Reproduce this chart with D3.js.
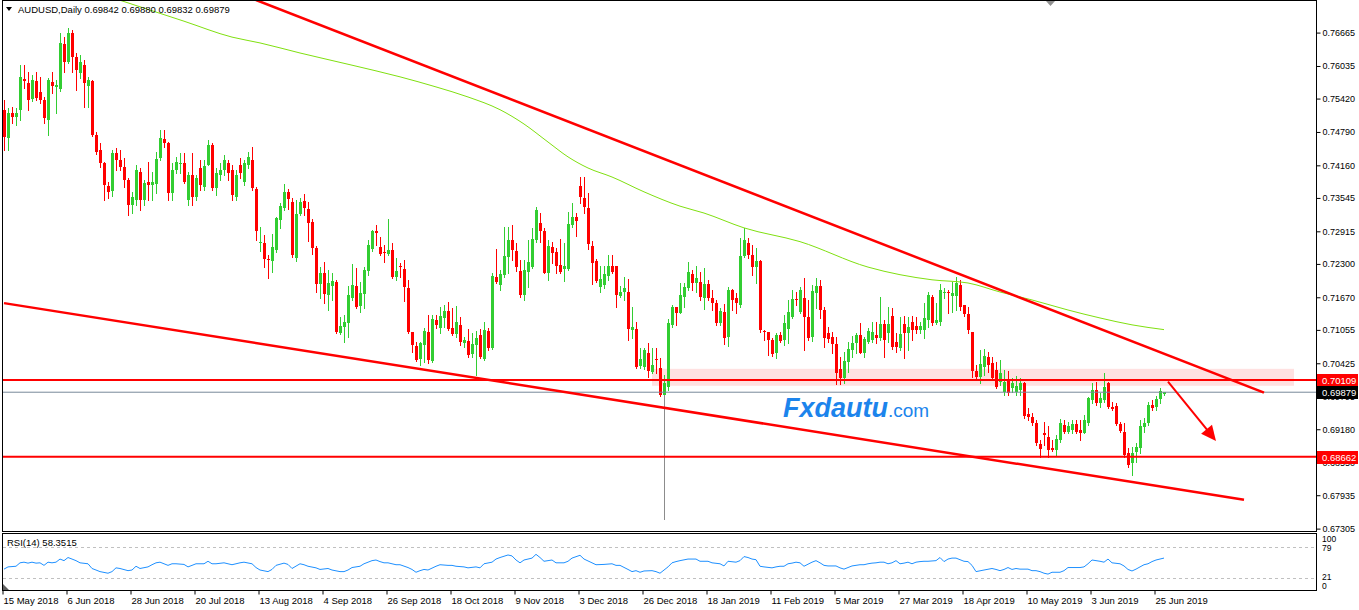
<!DOCTYPE html>
<html>
<head>
<meta charset="utf-8">
<script src="https://cdn.jsdelivr.net/npm/d3@7"></script>
<style>
  html, body { margin: 0; padding: 0; background: #fff; }
  svg { display: block; font-family: "Liberation Sans", Arial, sans-serif; }
</style>
</head>
<body>
<svg id="chart" width="1359" height="610"></svg>
<script>
// AUDUSD daily candles, prices in pips (price * 10000), bar 0 = 15 May 2018
let opens = [
  7521,7468,7515,7507,7521,7579,7571,7541,7575,7554, 7539,7502,7574,7564,7560,7645,7611,7666,7620,7590,
  7605,7566,7575,7473,7445,7421,7377,7368,7439,7426, 7413,7389,7341,7351,7404,7351,7385,7379,7380,7430,
  7466,7458,7364,7407,7419,7421,7351,7398,7356,7411, 7375,7417,7455,7373,7398,7407,7421,7407,7356,7417,
  7385,7417,7426,7372,7270,7270,7240,7236,7256,7313, 7336,7366,7347,7241,7324,7349,7334,7309,7260,7192,
  7213,7172,7189,7196,7100,7111,7119,7166,7189,7151, 7173,7217,7258,7292,7262,7253,7249,7256,7206,7226,
  7221,7185,7102,7075,7051,7077,7102,7047,7124,7109, 7128,7142,7109,7098,7115,7081,7085,7060,7077,7096,
  7051,7104,7072,7206,7190,7209,7243,7275,7255,7217, 7172,7215,7224,7275,7307,7292,7213,7262,7253,7228,
  7221,7221,7304,7319,7377,7355,7336,7264,7236,7187, 7190,7207,7226,7226,7170,7177,7177,7106,7108,7038,
  7036,7062,7026,7051,7034,6983,6998,7115,7149,7138, 7168,7185,7211,7194,7196,7166,7192,7166,7157,7119,
  7140,7092,7181,7166,7153,7245,7270,7247,7224,7236, 7104,7102,7087,7062,7096,7087,7108,7130,7164,7140,
  7166,7130,7092,7175,7189,7143,7100,7092,7079,7032, 7015,7045,7068,7081,7096,7062,7083,7087,7096,7091,
  7117,7100,7132,7083,7072,7117,7100,7120,7113,7106, 7106,7124,7168,7119,7121,7175,7177,7170,7170,7190,
  7153,7136,7102,7028,7017,7036,7055,7043,7030,7008, 6989,7011,6996,6989,6992,7006,6947,6942,6930,6891,
  6911,6904,6883,6879,6898,6926,6913,6917,6928,6917, 6911,6930,6974,6992,6968,6974,7006,6960,6962,6928,
  6913,6874,6855,6876,6883,6923,6930,6964,6960,6975, 6984.2
];
let highs = [
  7539,7524,7526,7524,7605,7605,7592,7587,7592,7583, 7545,7580,7592,7577,7666,7658,7675,7671,7628,7624,
  7615,7583,7577,7479,7458,7423,7385,7445,7449,7445, 7430,7392,7366,7417,7411,7389,7423,7404,7441,7483,
  7483,7460,7421,7432,7439,7439,7404,7439,7398,7426, 7426,7464,7458,7411,7421,7436,7426,7417,7407,7430,
  7426,7441,7451,7375,7300,7285,7247,7287,7319,7345, 7381,7372,7355,7351,7355,7362,7347,7315,7264,7224,
  7234,7219,7213,7200,7130,7134,7189,7230,7223,7196, 7224,7275,7294,7304,7281,7266,7315,7270,7241,7232,
  7238,7200,7102,7083,7083,7109,7134,7134,7134,7149, 7153,7158,7147,7151,7130,7092,7108,7100,7104,7108,
  7121,7109,7213,7258,7219,7300,7300,7304,7270,7238, 7238,7275,7298,7338,7326,7298,7275,7272,7260,7277,
  7270,7328,7345,7326,7394,7394,7364,7273,7240,7226, 7226,7247,7247,7226,7189,7206,7202,7149,7121,7072,
  7072,7081,7072,7072,7053,7021,7126,7153,7149,7194, 7194,7234,7219,7226,7215,7223,7200,7181,7162,7147,
  7155,7187,7183,7175,7279,7298,7279,7266,7260,7238, 7106,7102,7091,7100,7102,7134,7162,7181,7177,7187,
  7204,7162,7190,7204,7200,7149,7111,7102,7092,7055, 7064,7083,7094,7100,7119,7092,7109,7121,7121,7168,
  7124,7149,7147,7100,7130,7132,7130,7132,7130,7121, 7157,7177,7172,7157,7192,7185,7181,7196,7206,7200,
  7153,7149,7102,7040,7068,7070,7064,7055,7045,7049, 7030,7028,7015,7019,7015,7008,6958,6949,6936,6898,
  6932,6925,6898,6908,6938,6936,6932,6936,6936,6936, 6945,6979,7006,7008,6987,7025,7008,6970,6968,6932,
  6930,6883,6885,6892,6936,6940,6970,6974,6981,6996, 6988.0
];
let lows = [
  7445,7445,7496,7492,7502,7562,7521,7537,7539,7534, 7496,7473,7553,7515,7556,7592,7609,7592,7558,7581,
  7526,7526,7472,7438,7413,7351,7355,7358,7407,7407, 7375,7323,7326,7341,7332,7341,7351,7351,7364,7426,
  7451,7351,7351,7402,7402,7383,7341,7341,7351,7370, 7370,7417,7370,7360,7389,7398,7389,7351,7351,7392,
  7379,7411,7370,7275,7255,7224,7204,7215,7253,7298, 7332,7334,7243,7236,7323,7323,7273,7249,7177,7166,
  7157,7143,7162,7100,7098,7083,7092,7162,7147,7140, 7147,7209,7255,7266,7247,7234,7247,7204,7200,7206,
  7160,7100,7064,7047,7040,7045,7043,7045,7109,7100, 7111,7106,7096,7092,7077,7074,7055,7055,7021,7053,
  7049,7068,7070,7194,7181,7206,7213,7238,7217,7168, 7162,7187,7223,7272,7272,7213,7200,7232,7213,7213,
  7198,7219,7300,7283,7345,7326,7258,7192,7196,7177, 7185,7200,7213,7149,7168,7162,7087,7091,7034,7034,
  7032,7017,7025,7025,6981,6749,6992,7111,7115,7138, 7149,7181,7181,7177,7162,7145,7162,7143,7115,7115,
  7079,7075,7143,7138,7149,7243,7241,7209,7194,7102, 7087,7058,7057,7053,7083,7077,7081,7128,7153,7138,
  7068,7087,7085,7147,7128,7074,7083,7062,7004,7004, 7006,7026,7055,7062,7062,7055,7081,7083,7081,7087,
  7055,7083,7070,7064,7068,7053,7068,7087,7100,7100, 7091,7111,7115,7117,7115,7166,7138,7140,7143,7143,
  7132,7100,7017,7015,7006,7021,7026,7011,6996,7002, 6983,6983,6989,6983,6983,6940,6936,6926,6889,6866,
  6889,6866,6877,6868,6894,6911,6911,6911,6911,6898, 6911,6926,6968,6964,6960,6970,6958,6955,6926,6913,
  6866,6847,6832,6857,6874,6913,6926,6955,6955,6968, 6983.2
];
let closes = [
  7470,7515,7507,7515,7583,7575,7539,7577,7543,7539, 7505,7577,7566,7568,7647,7611,7666,7620,7596,7611,
  7571,7577,7473,7441,7421,7379,7366,7439,7426,7413, 7389,7341,7356,7407,7351,7383,7379,7385,7428,7468,
  7458,7364,7407,7423,7421,7385,7398,7356,7392,7379, 7415,7455,7373,7402,7407,7426,7402,7360,7398,7402,
  7421,7432,7373,7292,7272,7240,7238,7262,7317,7340, 7366,7353,7247,7324,7347,7336,7307,7260,7192,7213,
  7173,7194,7198,7102,7113,7121,7172,7190,7149,7175, 7219,7266,7292,7289,7249,7251,7256,7206,7217,7224,
  7187,7102,7077,7049,7081,7104,7049,7126,7115,7132, 7142,7108,7098,7121,7083,7087,7058,7079,7091,7055,
  7106,7072,7207,7196,7211,7245,7275,7256,7224,7172, 7219,7234,7277,7332,7292,7213,7264,7251,7226,7215,
  7226,7306,7319,7311,7356,7338,7268,7232,7198,7202, 7211,7226,7215,7172,7177,7185,7108,7111,7036,7051,
  7068,7028,7040,7049,6983,7006,7119,7149,7138,7172, 7187,7215,7194,7204,7168,7192,7166,7157,7119,7142,
  7091,7181,7162,7157,7245,7275,7247,7224,7236,7106, 7102,7087,7060,7096,7085,7119,7140,7164,7162,7181,
  7130,7091,7179,7189,7143,7091,7089,7079,7025,7015, 7047,7070,7081,7096,7062,7089,7104,7102,7091,7117,
  7087,7117,7074,7074,7098,7100,7111,7106,7106,7113, 7128,7172,7119,7124,7181,7177,7175,7176,7194,7149,
  7136,7106,7028,7017,7042,7057,7040,7015,6998,7025, 7008,6987,7006,7000,7006,6943,6942,6930,6892,6880,
  6908,6879,6879,6900,6930,6913,6925,6928,6913,6911, 6936,6977,6992,6968,6977,6998,6960,6957,6928,6915,
  6870,6851,6874,6885,6925,6930,6964,6958,6975,6990, 6987.9
];
// bars whose long lower shadow is drawn grey in the reference (2 Jan 2019 flash crash)
let greyShadowBars = [165];

// 200-day moving average as [bar, price]
let maPoints = [
  [28,0.7730],[45,0.7688],[57,0.7658],[64,0.7647],[74,0.7628],[87,0.7605],[99,0.7583],[108,0.7564],
  [116,0.7545],[124,0.7521],[130,0.7494],[136,0.7460],[141,0.7432],[146,0.7411],[152,0.7394],[160,0.7366],
  [169,0.7339],[175,0.7326],[185,0.7298],[199,0.7272],[216,0.7224],[232,0.7200],[241,0.7194],[249,0.7177],
  [257,0.7162],[266,0.7143],[274,0.7128],[282,0.7115],[290,0.7106]
];

// RSI(14) as [bar, value]
let rsiPoints = [
  [0,37.5],[1,41.7],[3,42.9],[4,49.4],[5,50.6],[6,48.8],[7,50.6],[8,48.8],[9,49.4],[10,44.6],[11,50.6],[12,49.4],
  [13,50.6],[14,56.5],[15,53.5],[16,59.4],[17,56.5],[18,53.5],[19,49.4],[21,47.6],[22,38.7],[23,35.8],[24,32.8],
  [26,29.8],[27,32.8],[28,39.9],[29,38.7],[31,34.6],[32,35.8],[33,42.9],[34,38.7],[36,41.7],[37,45.8],[38,49.4],
  [39,50.6],[41,44.6],[42,47.6],[43,47.6],[45,46.4],[46,41.7],[47,44.6],[48,47.6],[50,47.6],[51,52.3],[52,47.6],
  [53,47.6],[55,49.4],[56,47.6],[57,45.8],[59,49.4],[60,50.6],[62,47.6],[63,40.5],[64,35.8],[66,32.8],[67,36.9],
  [68,44.6],[70,48.8],[71,46.4],[72,38.7],[74,47.6],[75,45.8],[76,42.9],[78,39.9],[79,36.9],[81,38.7],[82,35.8],
  [84,32.8],[85,32.8],[86,35.8],[87,40.5],[89,42.9],[90,47.6],[92,53.5],[93,54.7],[94,51.7],[95,49.4],[96,49.4],
  [98,45.8],[99,45.8],[101,40.5],[102,36.9],[103,31.6],[104,34.6],[105,36.9],[106,35.8],[108,42.9],[109,45.8],
  [111,44.6],[112,44.6],[113,42.9],[115,41.7],[116,39.9],[118,41.7],[119,39.9],[120,47.6],[122,50.6],[123,56.5],
  [124,59.4],[126,64.2],[127,62.4],[128,54.7],[129,49.4],[130,54.7],[132,58.3],[133,65.4],[134,59.4],[135,52.3],
  [137,54.7],[138,49.4],[140,49.4],[141,52.3],[142,58.3],[144,63.6],[145,56.5],[147,49.4],[148,45.8],[150,46.4],
  [152,47.6],[153,44.6],[154,44.6],[156,36.9],[157,32.8],[158,34.6],[159,31.6],[160,34.0],[162,34.6],[163,32.8],
  [164,29.8],[166,41.7],[167,49.4],[168,51.7],[169,53.5],[171,56.5],[173,56.5],[174,52.3],[176,52.3],[177,49.4],
  [179,47.6],[180,43.5],[181,52.3],[183,50.6],[184,53.5],[185,61.2],[186,59.4],[187,56.5],[188,55.3],[189,42.9],
  [190,41.7],[192,39.9],[193,41.7],[194,42.9],[195,42.9],[196,47.6],[197,48.8],[198,50.6],[199,49.4],[200,42.9],
  [202,50.6],[203,53.5],[204,49.4],[205,44.6],[206,43.5],[208,43.5],[209,39.9],[210,37.5],[211,40.5],[212,43.5],
  [214,45.8],[215,45.8],[216,47.6],[217,48.8],[218,49.4],[219,50.6],[220,50.6],[221,47.6],[222,49.4],[223,53.5],
  [224,47.6],[225,48.8],[226,50.6],[227,47.6],[228,50.6],[229,51.7],[230,52.3],[231,52.3],[233,53.5],[234,59.4],
  [235,51.7],[236,56.5],[237,58.3],[238,58.3],[239,55.3],[240,52.3],[241,51.7],[242,44.6],[243,32.8],[245,35.8],
  [247,38.7],[248,36.9],[249,34.6],[250,36.9],[251,40.5],[252,36.9],[253,38.7],[254,37.5],[256,37.5],[257,34.6],
  [258,34.6],[259,32.8],[260,29.8],[261,28.1],[262,31.6],[264,31.6],[265,34.6],[266,40.5],[268,40.5],[269,40.5],
  [270,41.7],[271,47.6],[272,54.7],[274,52.3],[275,50.6],[276,56.5],[277,49.4],[279,47.6],[280,43.5],[281,36.9],
  [282,34.0],[283,37.5],[284,41.7],[285,45.8],[286,47.6],[287,51.7],[288,54.7],[290,58.35]
];

let dateTicks = [0,16,32,48,64,80,96,112,128,144,160,176,192,208,224,240,256,272,288];
let dateLabels = ["15 May 2018","6 Jun 2018","28 Jun 2018","20 Jul 2018","13 Aug 2018","4 Sep 2018",
  "26 Sep 2018","18 Oct 2018","9 Nov 2018","3 Dec 2018","26 Dec 2018","18 Jan 2019","11 Feb 2019",
  "5 Mar 2019","27 Mar 2019","18 Apr 2019","10 May 2019","3 Jun 2019","25 Jun 2019"];
let priceTicks = [0.76665,0.76035,0.75420,0.74790,0.74160,0.73545,0.72915,0.72300,0.71670,0.71055,
  0.70425,0.69795,0.69180,0.68550,0.67935,0.67305];
let rsiLevels = [79, 21];

// drawn objects: [bar, price]
let upperTrend = [[63, 0.7728], [315, 0.6987]];
let lowerTrend = [[0, 0.7156], [310, 0.6785]];
let resistance = 0.70109;
let support = 0.68662;
let lastPrice = 0.69879;
let zoneBars = [162, 322.5];
let zonePrices = [0.7000, 0.7032];
let arrowFrom = [291, 0.7008];
let arrowTo = [303, 0.6896];

let upColor = "#32cd32", downColor = "#ff0000";

let x = d3.scaleLinear().domain([0, 328]).range([4, 1316]);
let y = d3.scaleLinear().domain([0.6726, 0.7728]).range([531, 0]);
let yRsi = d3.scaleLinear().domain([0, 100]).range([589, 536]);

let svg = d3.select("#chart");
let defs = svg.append("defs");
defs.append("clipPath").attr("id", "mainClip")
    .append("rect").attr("x", 3).attr("y", 1).attr("width", 1313).attr("height", 530);
defs.append("clipPath").attr("id", "rsiClip")
    .append("rect").attr("x", 3).attr("y", 534).attr("width", 1313).attr("height", 56);

let main = svg.append("g").attr("clip-path", "url(#mainClip)");

// pink zone behind the bars
main.append("rect")
    .attr("x", x(zoneBars[0]))
    .attr("y", y(zonePrices[1]))
    .attr("width", x(zoneBars[1]) - x(zoneBars[0]))
    .attr("height", y(zonePrices[0]) - y(zonePrices[1]))
    .attr("fill", "#ffe1e1");

let candles = opens.map((o, i) => ({
  i: i, o: o / 1e4, h: highs[i] / 1e4, l: lows[i] / 1e4, c: closes[i] / 1e4
}));
let colorOf = d => d.c >= d.o ? upColor : downColor;

let bar = main.append("g").selectAll("g")
    .data(candles)
    .enter().append("g");

// upper shadow + body-level part of the wick
bar.append("line")
    .attr("x1", d => x(d.i) + 0.5)
    .attr("x2", d => x(d.i) + 0.5)
    .attr("y1", d => Math.round(y(d.h)))
    .attr("y2", d => Math.round(y(Math.min(d.o, d.c))))
    .attr("stroke", colorOf)
    .attr("stroke-width", 1);

// lower shadow
bar.append("line")
    .attr("x1", d => x(d.i) + 0.5)
    .attr("x2", d => x(d.i) + 0.5)
    .attr("y1", d => Math.round(y(Math.min(d.o, d.c))))
    .attr("y2", d => Math.round(y(d.l)) + 1)
    .attr("stroke", d => greyShadowBars.includes(d.i) ? "#8c8c8c" : colorOf(d))
    .attr("stroke-width", 1);

bar.append("rect")
    .attr("x", d => x(d.i) - 1)
    .attr("y", d => Math.round(y(Math.max(d.o, d.c))))
    .attr("width", 3)
    .attr("height", d => Math.max(1, Math.round(y(Math.min(d.o, d.c))) - Math.round(y(Math.max(d.o, d.c)))))
    .attr("fill", colorOf);

// moving average
let line = d3.line().x(d => x(d[0])).y(d => y(d[1])).curve(d3.curveMonotoneX);
main.append("path")
    .attr("d", line(maPoints))
    .attr("fill", "none")
    .attr("stroke", "#80e010")
    .attr("stroke-width", 1);

// horizontal levels
let hline = (p, color, w) => {
  main.append("line")
      .attr("x1", 3).attr("x2", 1316)
      .attr("y1", y(p)).attr("y2", y(p))
      .attr("stroke", color).attr("stroke-width", w);
};
hline(lastPrice, "#778899", 1);
hline(resistance, "#ff0000", 2);
hline(support, "#ff0000", 2);

// trend lines
let straight = d3.line().x(d => x(d[0])).y(d => y(d[1]));
[upperTrend, lowerTrend].forEach(t => {
  main.append("path")
      .attr("d", straight(t))
      .attr("stroke", "#ff0000")
      .attr("stroke-width", 2.5)
      .attr("fill", "none");
});

// arrow
let ax0 = x(arrowFrom[0]), ay0 = y(arrowFrom[1]);
let ax1 = x(arrowTo[0]), ay1 = y(arrowTo[1]);
let len = Math.hypot(ax1 - ax0, ay1 - ay0);
let ux = (ax1 - ax0) / len, uy = (ay1 - ay0) / len;
let headLen = 15, headW = 7;
main.append("line")
    .attr("x1", ax0).attr("y1", ay0)
    .attr("x2", ax1 - ux * headLen * 0.7).attr("y2", ay1 - uy * headLen * 0.7)
    .attr("stroke", "#ff0000").attr("stroke-width", 2);
main.append("path")
    .attr("d", `M${ax1},${ay1}L${ax1 - ux * headLen - uy * headW},${ay1 - uy * headLen + ux * headW}` +
               `L${ax1 - ux * headLen + uy * headW},${ay1 - uy * headLen - ux * headW}Z`)
    .attr("fill", "#ff0000");

// watermark
let wm = svg.append("text")
    .attr("x", 783).attr("y", 417)
    .attr("fill", "#1c84ec");
wm.append("tspan")
    .attr("font-size", "27px").attr("font-weight", "bold").attr("font-style", "italic")
    .text("Fxdautu");
wm.append("tspan")
    .attr("font-size", "19px")
    .text(".com");

// frames
svg.append("rect").attr("x", 2.5).attr("y", 0.5).attr("width", 1314).attr("height", 531)
    .attr("fill", "none").attr("stroke", "#000");
svg.append("rect").attr("x", 2.5).attr("y", 533.5).attr("width", 1314).attr("height", 57)
    .attr("fill", "none").attr("stroke", "#000");

// price axis
let yAxis = svg.append("g")
    .attr("transform", "translate(1316.5,0)")
    .call(d3.axisRight(y).tickValues(priceTicks).tickSize(4).tickFormat(d3.format(".5f")));
yAxis.select(".domain").remove();
yAxis.selectAll("text").attr("font-size", "9px").attr("fill", "#000")
    .attr("font-family", "Liberation Sans, Arial, sans-serif").attr("x", 6);

// price tags
let tag = (p, fill) => {
  let g = svg.append("g").attr("transform", `translate(1317,${Math.round(y(p))})`);
  g.append("rect").attr("x", 0).attr("y", -6).attr("width", 41).attr("height", 13).attr("fill", fill);
  g.append("text").attr("x", 5).attr("y", 4).attr("fill", "#fff")
      .attr("font-size", "9.5px").text(d3.format(".5f")(p));
};
tag(resistance, "#ff0000");
tag(lastPrice, "#000");
tag(support, "#ff0000");

// RSI panel
let rsi = svg.append("g").attr("clip-path", "url(#rsiClip)");
rsiLevels.forEach(v => {
  rsi.append("line")
      .attr("x1", 3).attr("x2", 1316)
      .attr("y1", Math.round(yRsi(v)) + 0.5).attr("y2", Math.round(yRsi(v)) + 0.5)
      .attr("stroke", "#c0c0c0").attr("stroke-dasharray", "3,3");
});
let rsiLine = d3.line().x(d => x(d[0])).y(d => yRsi(d[1]));
rsi.append("path")
    .attr("d", rsiLine(rsiPoints))
    .attr("fill", "none")
    .attr("stroke", "#1e90ff")
    .attr("stroke-width", 1);

svg.append("text").attr("x", 7).attr("y", 546).attr("font-size", "9.5px").attr("fill", "#000")
    .text("RSI(14) 58.3515");

[["100", 542], ["79", 551], ["21", 580], ["0", 589]].forEach(([t, ty]) => {
  svg.append("text").attr("x", 1322).attr("y", ty).attr("font-size", "8.5px").attr("fill", "#000").text(t);
});

// time axis
let xAxis = svg.append("g")
    .attr("transform", "translate(0,590.5)")
    .call(d3.axisBottom(x).tickValues(dateTicks).tickSize(4).tickFormat((d, k) => dateLabels[k]));
xAxis.select(".domain").remove();
xAxis.selectAll(".tick line").attr("transform", "translate(-1.5,0)");
xAxis.selectAll("text").attr("font-size", "9.5px").attr("fill", "#000")
    .attr("font-family", "Liberation Sans, Arial, sans-serif")
    .attr("text-anchor", "start").attr("x", -1);

// header
svg.append("path").attr("d", "M6,7L12,7L9,11Z").attr("fill", "#000");
svg.append("text").attr("x", 18).attr("y", 13).attr("font-size", "9.5px").attr("fill", "#000")
    .text("AUDUSD,Daily  0.69842 0.69880 0.69832 0.69879");

// small markers
svg.append("path").attr("d", "M1046,1L1055,1L1050.5,6Z").attr("fill", "#909090");
svg.append("path").attr("d", "M3,584L3,590L9,590Z").attr("fill", "#606060");
</script>
</body>
</html>
